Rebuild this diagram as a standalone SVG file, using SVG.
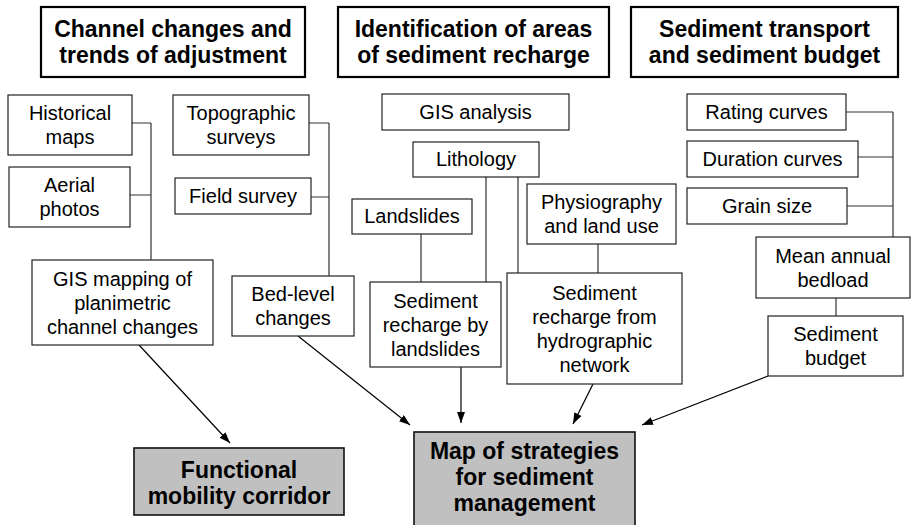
<svg xmlns="http://www.w3.org/2000/svg" width="911" height="525" viewBox="0 0 911 525">
  <defs>
    <marker id="arrow" markerUnits="userSpaceOnUse" markerWidth="12" markerHeight="10" refX="11" refY="4" orient="auto">
      <path d="M0,0 L11,4 L0,8 Z" fill="#000"/>
    </marker>
    <style>
      .box { fill: #fff; stroke: #222; stroke-width: 1.2; }
      .head { fill: #fff; stroke: #000; stroke-width: 2.2; }
      .out { fill: #c0c0c0; stroke: #111; stroke-width: 1.6; }
      .t { font-family: "Liberation Sans", Arial, sans-serif; font-size: 20px; fill: #000; text-anchor: middle; }
      .b { font-family: "Liberation Sans", Arial, sans-serif; font-size: 23px; font-weight: bold; fill: #000; text-anchor: middle; }
      .link { fill: none; stroke: #333; stroke-width: 1.2; }
      .arr { fill: none; stroke: #000; stroke-width: 1.2; marker-end: url(#arrow); }
    </style>
  </defs>
  <rect width="911" height="525" fill="#fff"/>

  <!-- connectors -->
  <g id="connectors">
    <path class="link" d="M132,123 H151 M130,195 H151 M151,123 V260"/>
    <path class="link" d="M309,123 H329 M311,197 H329 M329,123 V276"/>
    <path class="link" d="M421,234 V282 M486,177 V282 M518,177 V273 M598,244 V273"/>
    <path class="link" d="M846,112 H893 M858,157 H893 M847,206 H893 M893,112 V237 M836,298 V316"/>
    <line class="arr" x1="139" y1="345" x2="230" y2="443"/>
    <line class="arr" x1="298" y1="336" x2="410" y2="425"/>
    <line class="arr" x1="461" y1="367" x2="461" y2="423"/>
    <line class="arr" x1="593" y1="384" x2="573" y2="424"/>
    <line class="arr" x1="768" y1="376" x2="642" y2="425"/>
  </g>

  <!-- column headings -->
  <g id="head-channel">
    <rect class="head" x="41" y="7" width="264" height="70"/>
    <text class="b" x="173" y="37">Channel changes and</text>
    <text class="b" x="173" y="63">trends of adjustment</text>
  </g>
  <g id="head-recharge">
    <rect class="head" x="338" y="7" width="271" height="70"/>
    <text class="b" x="473.5" y="37">Identification of areas</text>
    <text class="b" x="473.5" y="63">of sediment recharge</text>
  </g>
  <g id="head-transport">
    <rect class="head" x="631" y="7" width="267" height="70"/>
    <text class="b" x="764.5" y="37">Sediment transport</text>
    <text class="b" x="764.5" y="63">and sediment budget</text>
  </g>

  <!-- channel changes column -->
  <g id="historical-maps">
    <rect class="box" x="8" y="95" width="124" height="60"/>
    <text class="t" x="70" y="120">Historical</text>
    <text class="t" x="70" y="144">maps</text>
  </g>
  <g id="aerial-photos">
    <rect class="box" x="9" y="167" width="121" height="60"/>
    <text class="t" x="69.5" y="192">Aerial</text>
    <text class="t" x="69.5" y="216">photos</text>
  </g>
  <g id="topographic-surveys">
    <rect class="box" x="173" y="95" width="136" height="60"/>
    <text class="t" x="241" y="120">Topographic</text>
    <text class="t" x="241" y="144">surveys</text>
  </g>
  <g id="field-survey">
    <rect class="box" x="175" y="178" width="136" height="36"/>
    <text class="t" x="243" y="203">Field survey</text>
  </g>
  <g id="gis-mapping">
    <rect class="box" x="32" y="260" width="181" height="85"/>
    <text class="t" x="122.5" y="286">GIS mapping of</text>
    <text class="t" x="122.5" y="310">planimetric</text>
    <text class="t" x="122.5" y="334">channel changes</text>
  </g>
  <g id="bed-level">
    <rect class="box" x="232" y="276" width="122" height="60"/>
    <text class="t" x="293" y="301">Bed-level</text>
    <text class="t" x="293" y="325">changes</text>
  </g>

  <!-- sediment recharge column -->
  <g id="gis-analysis">
    <rect class="box" x="382" y="94" width="187" height="36"/>
    <text class="t" x="475.5" y="119">GIS analysis</text>
  </g>
  <g id="lithology">
    <rect class="box" x="413" y="142" width="126" height="35"/>
    <text class="t" x="476" y="166">Lithology</text>
  </g>
  <g id="landslides">
    <rect class="box" x="352" y="199" width="120" height="35"/>
    <text class="t" x="412" y="223">Landslides</text>
  </g>
  <g id="physiography">
    <rect class="box" x="527" y="184" width="149" height="60"/>
    <text class="t" x="601.5" y="209">Physiography</text>
    <text class="t" x="601.5" y="233">and land use</text>
  </g>
  <g id="recharge-landslides">
    <rect class="box" x="370" y="282" width="131" height="85"/>
    <text class="t" x="435.5" y="308">Sediment</text>
    <text class="t" x="435.5" y="332">recharge by</text>
    <text class="t" x="435.5" y="356">landslides</text>
  </g>
  <g id="recharge-network">
    <rect class="box" x="507" y="273" width="175" height="111"/>
    <text class="t" x="594.5" y="300">Sediment</text>
    <text class="t" x="594.5" y="324">recharge from</text>
    <text class="t" x="594.5" y="348">hydrographic</text>
    <text class="t" x="594.5" y="372">network</text>
  </g>

  <!-- sediment transport column -->
  <g id="rating-curves">
    <rect class="box" x="687" y="94" width="159" height="36"/>
    <text class="t" x="766.5" y="119">Rating curves</text>
  </g>
  <g id="duration-curves">
    <rect class="box" x="687" y="141" width="171" height="36"/>
    <text class="t" x="772.5" y="166">Duration curves</text>
  </g>
  <g id="grain-size">
    <rect class="box" x="687" y="188" width="160" height="36"/>
    <text class="t" x="767" y="213">Grain size</text>
  </g>
  <g id="mean-bedload">
    <rect class="box" x="756" y="237" width="154" height="61"/>
    <text class="t" x="833" y="263">Mean annual</text>
    <text class="t" x="833" y="287">bedload</text>
  </g>
  <g id="sediment-budget">
    <rect class="box" x="768" y="316" width="135" height="60"/>
    <text class="t" x="835.5" y="341">Sediment</text>
    <text class="t" x="835.5" y="365">budget</text>
  </g>

  <!-- outcomes -->
  <g id="mobility-corridor">
    <rect class="out" x="134" y="448" width="210" height="67"/>
    <text class="b" x="239" y="478">Functional</text>
    <text class="b" x="239" y="504">mobility corridor</text>
  </g>
  <g id="strategy-map">
    <rect class="out" x="414" y="432" width="221" height="96"/>
    <text class="b" x="524.5" y="459">Map of strategies</text>
    <text class="b" x="524.5" y="485">for sediment</text>
    <text class="b" x="524.5" y="511">management</text>
  </g>
</svg>
